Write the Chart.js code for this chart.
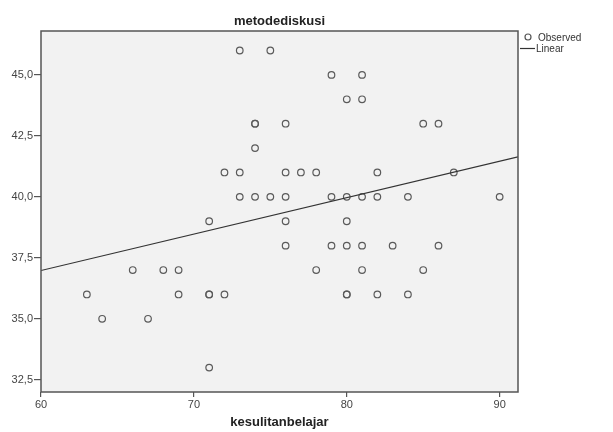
<!DOCTYPE html>
<html>
<head>
<meta charset="utf-8">
<script src="https://cdn.jsdelivr.net/npm/chart.js@4"></script>
<style>
  html, body { margin: 0; padding: 0; background: #ffffff; }
  #wrap { width: 613px; height: 432px; position: relative; }
</style>
</head>
<body>
<div id="wrap"><canvas id="c" width="613" height="432"></canvas></div>
<script>
// ---- data ----
const chartTitle = 'metodediskusi';
const xTitle = 'kesulitanbelajar';
const xTicks = [60, 70, 80, 90];
const yTicks = [32.5, 35.0, 37.5, 40.0, 42.5, 45.0];
const yTickLabels = ['32,5', '35,0', '37,5', '40,0', '42,5', '45,0'];
const legendLabels = ['Observed', 'Linear'];

const obsX = [73, 75,
              79, 81,
              80, 81,
              74, 74, 76, 85, 86,
              74,
              72, 73, 76, 77, 78, 82, 87,
              73, 74, 75, 76, 79, 80, 81, 82, 84, 90,
              71, 76, 80,
              76, 79, 80, 81, 83, 86,
              66, 68, 69, 78, 81, 85,
              63, 69, 71, 71, 72, 80, 80, 82, 84,
              64, 67,
              71];
const obsY = [46, 46,
              45, 45,
              44, 44,
              43, 43, 43, 43, 43,
              42,
              41, 41, 41, 41, 41, 41, 41,
              40, 40, 40, 40, 40, 40, 40, 40, 40, 40,
              39, 39, 39,
              38, 38, 38, 38, 38, 38,
              37, 37, 37, 37, 37, 37,
              36, 36, 36, 36, 36, 36, 36, 36, 36,
              35, 35,
              33];
// fitted linear line, endpoints
const fitX = [60, 91.2];
const fitY = [36.98, 41.64];

const xMin = 60, xMax = 91.2, yMin = 32.0, yMax = 46.8;

const observed = obsX.map((x, i) => ({ x: x, y: obsY[i] }));
const linear = fitX.map((x, i) => ({ x: x, y: fitY[i] }));

const FONT = "'Liberation Sans', Arial, sans-serif";

const framePlugin = {
  id: 'frame',
  beforeDraw(chart) {
    const { ctx, chartArea: a } = chart;
    ctx.save();
    ctx.fillStyle = '#f2f2f2';
    ctx.fillRect(a.left, a.top, a.right - a.left, a.bottom - a.top);
    ctx.restore();
  },
  afterDraw(chart) {
    const { ctx, chartArea: a } = chart;
    ctx.save();
    ctx.strokeStyle = '#555555';
    ctx.lineWidth = 1.5;
    ctx.strokeRect(a.left, a.top, a.right - a.left, a.bottom - a.top);
    // title
    ctx.fillStyle = '#222222';
    ctx.font = 'bold 13px ' + FONT;
    ctx.textAlign = 'center';
    ctx.textBaseline = 'alphabetic';
    const cx = (a.left + a.right) / 2;
    ctx.fillText(chartTitle, cx, 25);
    ctx.fillText(xTitle, cx, 426);
    // legend
    ctx.font = '10px ' + FONT;
    ctx.textAlign = 'left';
    ctx.textBaseline = 'middle';
    ctx.fillStyle = '#333333';
    ctx.beginPath();
    ctx.lineWidth = 1.2;
    ctx.strokeStyle = '#555555';
    ctx.arc(528, 37, 3, 0, Math.PI * 2);
    ctx.stroke();
    ctx.fillText(legendLabels[0], 538, 38);
    ctx.beginPath();
    ctx.strokeStyle = '#333333';
    ctx.lineWidth = 1.2;
    ctx.moveTo(520, 48.5);
    ctx.lineTo(535, 48.5);
    ctx.stroke();
    ctx.fillText(legendLabels[1], 536, 49);
    ctx.restore();
  }
};

new Chart(document.getElementById('c'), {
  type: 'scatter',
  data: {
    datasets: [
      {
        label: legendLabels[0],
        data: observed,
        showLine: false,
        pointStyle: 'circle',
        pointRadius: 3.3,
        pointHoverRadius: 3.3,
        pointBorderWidth: 1.2,
        pointBorderColor: '#5a5a5a',
        pointBackgroundColor: 'rgba(0,0,0,0)',
        order: 2
      },
      {
        label: legendLabels[1],
        type: 'line',
        data: linear,
        showLine: true,
        borderColor: '#333333',
        borderWidth: 1.2,
        pointRadius: 0,
        fill: false,
        order: 1
      }
    ]
  },
  options: {
    responsive: false,
    animation: false,
    events: [],
    layout: { padding: { top: 31, right: 95, left: 0, bottom: 0 } },
    plugins: {
      legend: { display: false },
      title: { display: false },
      tooltip: { enabled: false }
    },
    scales: {
      x: {
        type: 'linear',
        min: xMin,
        max: xMax,
        afterFit(s) { s.height = 40; },
        afterBuildTicks(s) { s.ticks = xTicks.map(v => ({ value: v })); },
        border: { display: false },
        grid: {
          drawOnChartArea: false,
          drawTicks: true,
          tickLength: 5,
          color: '#555555',
          lineWidth: 1.2
        },
        ticks: {
          color: '#444444',
          font: { family: FONT, size: 11 },
          padding: 1,
          maxRotation: 0,
          callback: v => String(v)
        }
      },
      y: {
        type: 'linear',
        min: yMin,
        max: yMax,
        afterFit(s) { s.width = 41; },
        afterBuildTicks(s) { s.ticks = yTicks.map(v => ({ value: v })); },
        border: { display: false },
        grid: {
          drawOnChartArea: false,
          drawTicks: true,
          tickLength: 7,
          color: '#555555',
          lineWidth: 1.2
        },
        ticks: {
          color: '#444444',
          font: { family: FONT, size: 11 },
          padding: 1,
          callback: v => {
            const i = yTicks.findIndex(t => Math.abs(t - v) < 1e-6);
            return i >= 0 ? yTickLabels[i] : '';
          }
        }
      }
    }
  },
  plugins: [framePlugin]
});
</script>
</body>
</html>
